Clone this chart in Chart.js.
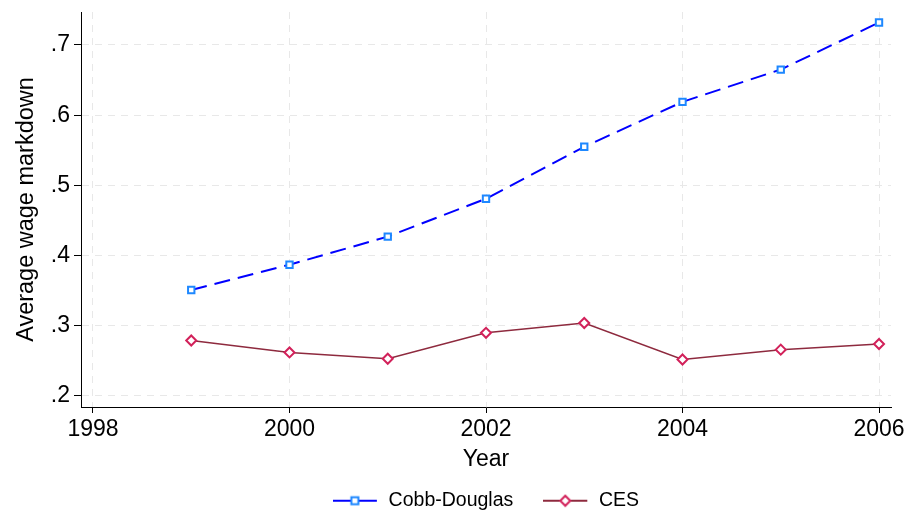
<!DOCTYPE html>
<html>
<head>
<meta charset="utf-8">
<script src="https://cdn.jsdelivr.net/npm/chart.js@4/dist/chart.umd.min.js"></script>
<style>
  html, body { margin: 0; padding: 0; background: #fff; }
  #wrap { width: 906px; height: 512px; }
</style>
</head>
<body>
<div id="wrap"><canvas id="markdown"></canvas></div>
<script>
// --- DATOS ---
const years = [1999, 2000, 2001, 2002, 2003, 2004, 2005, 2006];
const cobbDouglas = [0.351, 0.387, 0.427, 0.481, 0.555, 0.619, 0.665, 0.732];
const ces = [0.279, 0.262, 0.253, 0.290, 0.304, 0.252, 0.266, 0.274];
const xTicks = [1998, 2000, 2002, 2004, 2006];
const yTicks = [0.2, 0.3, 0.4, 0.5, 0.6, 0.7];

const BLUE_LINE = '#0000ff';
const BLUE_MARK = '#1e88ff';
const RED_LINE = '#8e2a3e';
const RED_MARK = '#d2215a';
const GRID = '#e8e8e8';
const FONT = 'Liberation Sans, Arial, sans-serif';

// icono de leyenda: línea + marcador
function legendIcon(lineColor, markColor, shape) {
    const c = document.createElement('canvas');
    c.width = 46; c.height = 14;
    const g = c.getContext('2d');
    g.strokeStyle = lineColor;
    g.lineWidth = 2;
    g.beginPath(); g.moveTo(0, 7); g.lineTo(44, 7); g.stroke();
    g.fillStyle = '#fff';
    g.strokeStyle = markColor;
    g.lineWidth = 2;
    g.beginPath();
    if (shape === 'rect') {
        g.rect(18.5, 3.5, 7, 7);
    } else {
        g.moveTo(22, 2); g.lineTo(27, 7); g.lineTo(22, 12); g.lineTo(17, 7); g.closePath();
    }
    g.fill(); g.stroke();
    return c;
}

const iconCD = legendIcon(BLUE_LINE, BLUE_MARK, 'rect');
const iconCES = legendIcon(RED_LINE, RED_MARK, 'diamond');

// la leyenda de Stata va centrada bajo el área de trazado
const legendShift = {
    id: 'legendShift',
    afterLayout(chart) {
        const lg = chart.legend;
        const dx = (chart.chartArea.left + chart.chartArea.right) / 2 - (lg.left + lg.right) / 2;
        lg.left += dx; lg.right += dx;
        lg.top -= 12;
        lg.bottom = 525;
        lg.height = lg.bottom - lg.top;
    }
};

const ctx = document.getElementById('markdown').getContext('2d');

new Chart(ctx, {
    type: 'line',
    data: {
        datasets: [
            {
                label: 'Cobb-Douglas',
                data: years.map((y, i) => ({ x: y, y: cobbDouglas[i] })),
                borderColor: BLUE_LINE,
                borderWidth: 2,
                borderDash: [16, 8],
                pointStyle: 'rect',
                pointRadius: 4.5,
                pointBorderWidth: 2,
                pointBorderColor: BLUE_MARK,
                pointBackgroundColor: '#fff',
                tension: 0
            },
            {
                label: 'CES',
                data: years.map((y, i) => ({ x: y, y: ces[i] })),
                borderColor: RED_LINE,
                borderWidth: 1.5,
                pointStyle: 'rectRot',
                pointRadius: 5,
                pointBorderWidth: 2,
                pointBorderColor: RED_MARK,
                pointBackgroundColor: '#fff',
                tension: 0
            }
        ]
    },
    plugins: [legendShift],
    options: {
        responsive: true,
        maintainAspectRatio: false,
        animation: false,
        layout: { padding: { top: 12, right: 15, left: 0, bottom: 0 } },
        plugins: {
            tooltip: { enabled: false },
            legend: {
                position: 'bottom',
                maxHeight: 39,
                labels: {
                    usePointStyle: true,
                    pointStyleWidth: 46,
                    padding: 30,
                    color: '#000',
                    font: { family: FONT, size: 19.5 },
                    generateLabels: () => [
                        { text: 'Cobb-Douglas', pointStyle: iconCD, datasetIndex: 0, fontColor: '#000', lineWidth: 0, strokeStyle: 'transparent', fillStyle: 'transparent' },
                        { text: 'CES', pointStyle: iconCES, datasetIndex: 1, fontColor: '#000', lineWidth: 0, strokeStyle: 'transparent', fillStyle: 'transparent' }
                    ]
                }
            }
        },
        scales: {
            x: {
                type: 'linear',
                min: 1997.878,
                max: 2006.122,
                afterBuildTicks: (scale) => { scale.ticks = xTicks.map(v => ({ value: v })); },
                afterFit: (scale) => {
                    scale.height = 512 - 407 - scale.chart.legend.height;
                    scale.paddingLeft = 0; scale.paddingRight = 0;
                },
                ticks: {
                    color: '#000',
                    padding: 3,
                    maxRotation: 0,
                    font: { family: FONT, size: 23 },
                    callback: (v) => String(v)
                },
                grid: { color: GRID, lineWidth: 1, tickColor: '#000', tickLength: 6, tickBorderDash: [] },
                border: { display: true, color: '#000', width: 1, dash: [7, 6] },
                title: { display: true, text: 'Year', color: '#000', font: { family: FONT, size: 23 }, padding: { top: 4, bottom: 0 } }
            },
            y: {
                min: 0.1843,
                max: 0.747,
                afterBuildTicks: (scale) => { scale.ticks = yTicks.map(v => ({ value: v })); },
                afterFit: (scale) => {
                    scale.width = 81;
                    scale.paddingTop = 0; scale.paddingBottom = 0;
                },
                ticks: {
                    color: '#000',
                    padding: 4,
                    font: { family: FONT, size: 23 },
                    callback: (v) => v.toFixed(1).replace(/^0/, '')
                },
                grid: { color: GRID, lineWidth: 1, tickColor: '#000', tickLength: 7, tickBorderDash: [] },
                border: { display: true, color: '#000', width: 1, dash: [7, 6] },
                title: { display: true, text: 'Average wage markdown', color: '#000', font: { family: FONT, size: 23.5 }, padding: { top: 12, bottom: 0 } }
            }
        }
    }
});
</script>
</body>
</html>
